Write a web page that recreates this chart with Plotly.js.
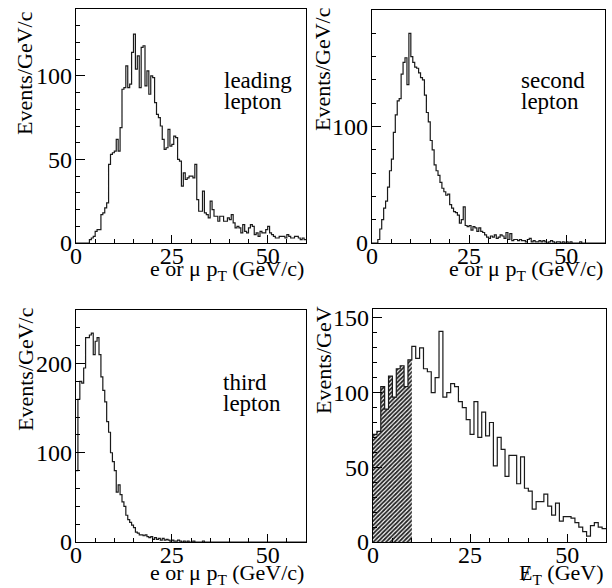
<!DOCTYPE html>
<html>
<head>
<meta charset="utf-8">
<script src="https://cdn.plot.ly/plotly-3.0.1.min.js"></script>
<style>html,body{margin:0;padding:0;background:#fff;}#chart{width:612px;height:588px;}</style>
</head>
<body>
<div id="chart"></div>
<script>
// ---- data (bin contents) ----
const leadingBinWidth = 0.5; // GeV/c
const leadingPt = [0,0,0,0,0,0,0,2,3,4,7,8,8,17,18,21,24,47,53,54,55,62,55,69,92,93,106,93,95,114,125,104,112,93,117,118,94,103,89,100,99,84,77,75,70,62,56,57,68,58,59,64,63,50,49,34,42,38,39,40,40,39,47,26,19,19,31,18,17,15,25,20,16,16,13,16,16,13,13,15,14,17,12,9,10,9,6,11,7,6,9,11,10,5,6,4,7,6,6,8,10,6,5,4,3,3,4,4,4,3,5,4,3,3,4,4,3,2,3,2];

const secondBinWidth = 0.5;
const secondPt = [0,0,0,3,12,20,30,36,48,62,72,95,110,122,124,145,155,159,136,180,160,155,151,150,146,142,140,127,112,104,88,80,67,62,58,52,47,44,41,42,33,30,27,26,24,17,20,31,15,14,15,11,14,13,10,13,10,9,7,5,4,6,5,7,4,5,7,6,4,9,3,8,2,3,3,2,3,2,2,1,3,4,1,2,1,1,2,1,2,1,0,1,2,1,0,1,1,0,1,0,1,0,1,0,0,0,0,1,0,0,0,0,0,0,0,0,0,0,0,0];

const thirdBinWidth = 0.5;
const thirdPt = [80,160,180,178,195,229,229,232,234,210,225,229,210,185,170,157,135,123,100,90,80,56,64,53,45,40,30,25,22,19,16,11,10,8,8,7,8,6,5,6,3,5,3,4,2,4,2,3,2,1,2,1,1,2,1,0,1,0,1,0,0,1,0,0,0,0,1,0,0,0,0,0,0,0,0,0,0,0,0,0,0,0,0,0,0,0,0,0,0,0,0,0,0,0,0,0,0,0,0,0,0,0,0,0,0,0,0,0,0,0,0,0,0,0,0,0,0,0,0,0];

const metBinWidth = 1.0; // GeV
const metCut = 10;       // hatched region: MET < 10 GeV
const missingEt = [72,74,104,89,111,97,116,118,104,122,131,123,130,116,114,100,110,141,97,100,106,104,94,90,82,72,94,70,87,71,80,51,70,62,44,58,58,39,57,36,34,22,27,27,32,24,18,26,14,17,17,16,13,10,7,4,11,13,10,9];

const xTickVals = [0, 25, 50];
const xTickText = ['0', '25', '50'];

// ---- helpers ----
function steps(values, w, nMax) {
  const n = (nMax === undefined) ? values.length : nMax;
  const x = [], y = [];
  for (let i = 0; i < n; i++) { x.push(i * w); y.push(values[i]); }
  x.push(n * w); y.push(values[n - 1]);
  return {x, y};
}

const FAMILY = "'Liberation Serif', 'Times New Roman', Times, serif";
const lineStyle = {color: '#1a1a1a', width: 1.2, shape: 'hv'};
const s1 = steps(leadingPt, leadingBinWidth);
const s2 = steps(secondPt, secondBinWidth);
const s3 = steps(thirdPt, thirdBinWidth);
const s4 = steps(missingEt, metBinWidth);
const s4h = steps(missingEt, metBinWidth, Math.round(metCut / metBinWidth));

const traces = [
  {x: s1.x, y: s1.y, xaxis: 'x', yaxis: 'y', mode: 'lines', line: lineStyle, hoverinfo: 'skip'},
  {x: s2.x, y: s2.y, xaxis: 'x2', yaxis: 'y2', mode: 'lines', line: lineStyle, hoverinfo: 'skip'},
  {x: s3.x, y: s3.y, xaxis: 'x3', yaxis: 'y3', mode: 'lines', line: lineStyle, hoverinfo: 'skip'},
  {x: s4h.x, y: s4h.y, xaxis: 'x4', yaxis: 'y4', mode: 'lines', line: {color: 'rgba(0,0,0,0)', width: 0, shape: 'hv'},
   fill: 'tozeroy', fillcolor: 'rgba(0,0,0,0)',
   fillpattern: {shape: '/', fgcolor: '#222', bgcolor: '#fff', size: 3, solidity: 0.6}, hoverinfo: 'skip'},
  {x: s4.x, y: s4.y, xaxis: 'x4', yaxis: 'y4', mode: 'lines', line: lineStyle, hoverinfo: 'skip'}
];

const W = 612, H = 588;
const fx = p => p / W;
const fy = p => 1 - p / H;

function xAxis(l, r, anchor) {
  return {
    domain: [fx(l), fx(r)], anchor: anchor, range: [0, 60],
    tickmode: 'array', tickvals: xTickVals, ticktext: xTickText,
    ticks: 'inside', ticklen: 8, tickwidth: 1, tickcolor: '#000',
    minor: {ticks: 'inside', ticklen: 4, dtick: 5, tick0: 0, tickcolor: '#000', tickwidth: 1},
    showline: true, linecolor: '#000', linewidth: 1.2, mirror: true,
    showgrid: false, zeroline: false, ticklabelstandoff: -9,
    tickfont: {family: FAMILY, size: 24, color: '#000'}
  };
}
function yAxis(t, b, anchor, maxv, majors, minorStep) {
  return {
    domain: [fy(b), fy(t)], anchor: anchor, range: [0, maxv],
    tickmode: 'array', tickvals: majors, ticktext: majors.map(String),
    ticks: 'inside', ticklen: 9, tickwidth: 1, tickcolor: '#000',
    minor: {ticks: 'inside', ticklen: 4, dtick: minorStep, tick0: 0, tickcolor: '#000', tickwidth: 1},
    showline: true, linecolor: '#000', linewidth: 1.2, mirror: true,
    showgrid: false, zeroline: false, ticklabelstandoff: -2,
    tickfont: {family: FAMILY, size: 24, color: '#000'}
  };
}

const fnt = {family: FAMILY, size: 23, color: '#000'};
function ann(text, x, y, xanchor, angle, size) {
  return {text: text, xref: 'paper', yref: 'paper', x: fx(x), y: fy(y),
          xanchor: xanchor, yanchor: 'middle', showarrow: false,
          font: {family: FAMILY, size: size || 23, color: '#000'}, textangle: angle || 0};
}

const layout = {
  width: W, height: H,
  margin: {l: 0, r: 0, t: 0, b: 0},
  paper_bgcolor: '#fff', plot_bgcolor: '#fff',
  showlegend: false,
  font: fnt,
  xaxis: xAxis(76, 306, 'y'),
  yaxis: yAxis(9, 243, 'x', 140, [0, 50, 100], 10),
  xaxis2: xAxis(372, 605, 'y2'),
  yaxis2: yAxis(10, 243, 'x2', 200, [0, 100, 200], 20),
  xaxis3: xAxis(76, 306, 'y3'),
  yaxis3: yAxis(310, 542, 'x3', 260, [0, 100, 200], 20),
  xaxis4: xAxis(373, 606, 'y4'),
  yaxis4: yAxis(309, 542, 'x4', 156, [0, 50, 100, 150], 10),
  annotations: [
    ann('Events/GeV/c', 25, 73, 'center', -90, 22),
    ann('Events/GeV/c', 323, 69, 'center', -90, 22),
    ann('Events/GeV/c', 25, 369, 'center', -90, 22),
    ann('Events/GeV', 323, 360, 'center', -90, 22),
    ann('e or \u03bc p<sub>T</sub> (GeV/c)', 306, 270, 'right', 0, 22),
    ann('e or \u03bc p<sub>T</sub> (GeV/c)', 605, 270, 'right', 0, 22),
    ann('e or \u03bc p<sub>T</sub> (GeV/c)', 306, 574, 'right', 0, 22),
    ann('E<sub>T</sub> (GeV)', 606, 574, 'right', 0, 22),
    ann('/', 526, 573, 'center', 0, 22),
    ann('leading', 222, 80, 'left'),
    ann('lepton', 222, 102, 'left'),
    ann('second', 519, 80, 'left'),
    ann('lepton', 519, 101, 'left'),
    ann('third', 221, 382, 'left'),
    ann('lepton', 221, 403, 'left')
  ]
};

Plotly.newPlot('chart', traces, layout, {staticPlot: true, displayModeBar: false});
</script>
</body>
</html>
